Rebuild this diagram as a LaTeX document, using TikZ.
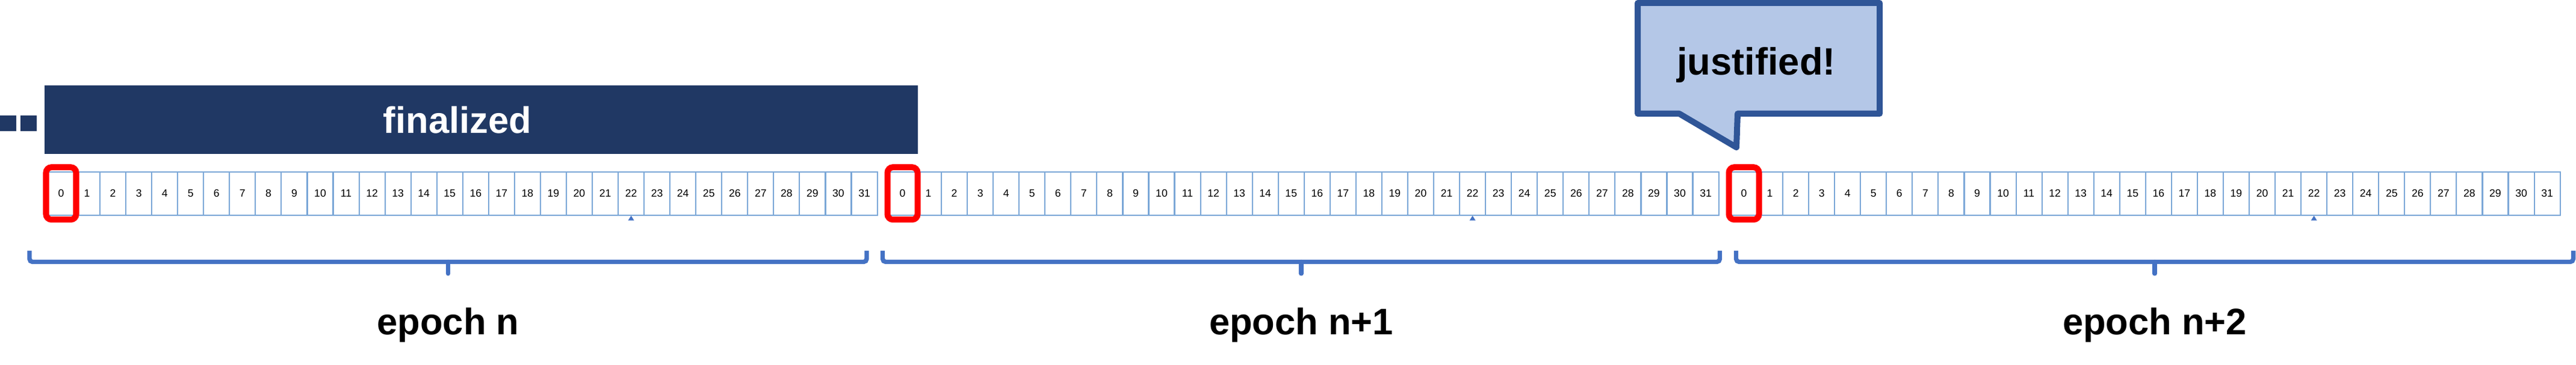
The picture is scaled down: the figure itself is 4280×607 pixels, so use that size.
\documentclass[tikz,border=0pt]{standalone}
\usepackage{fontspec}
\setmainfont{Liberation Sans}
\usetikzlibrary{calc}
\usetikzlibrary{positioning}
\definecolor{navy}{HTML}{203864}
\definecolor{cellblue}{HTML}{7BA7D7}
\definecolor{bracketblue}{HTML}{4472C4}
\definecolor{bubblefill}{HTML}{B4C7E7}
\definecolor{bubbleline}{HTML}{2F5597}
\tikzset{slot/.style={draw=cellblue,line width=0.6pt,outer sep=0pt,minimum width=4.305mm,minimum height=7.2mm,inner sep=0pt,font=\fontsize{5}{6}\selectfont}}
\tikzset{checkpoint/.style={draw=red,line width=2.85pt,rounded corners=0.9mm,minimum width=5mm,minimum height=8.7mm,inner sep=0pt}}
\tikzset{bracket/.style={draw=bracketblue,line width=2.1pt,rounded corners=0.5mm}}
\tikzset{biglabel/.style={font=\fontsize{17.5}{20}\selectfont\bfseries,anchor=base}}
\tikzset{bubble/.style={fill=bubblefill,draw=bubbleline,line width=2.85pt,line join=round}}
\newcommand{\dotbox}[1]{
    \fill[navy] (#1,192) rectangle ++(27,26);
}

\begin{document}
\begin{tikzpicture}[x=0.1mm,y=-0.1mm]
        \useasboundingbox (0,0) rectangle (4280,607);

        % dots and finalized bar
        \dotbox{0}
        \dotbox{34}
        \fill[navy] (74,142) rectangle (1525,256);
        \node[biglabel,text=white] (fin) at (760,222) {finalized};

        % slots of the three epochs
        \foreach \e/\x in {0/80,1/1478,2/2876} {
            \node[slot] (e\e-0) at (\x+21.5,321.7) {0};
            \foreach \s [remember=\s as \p (initially 0)] in {1,...,31} {
                \node[slot,right=0pt of e\e-\p] (e\e-\s) {\s};
            }
            \fill[bracketblue] ($(e\e-22.south)+(0,1)$) -- ++(-5,8) -- ++(10,0) -- cycle;
            \node[checkpoint] (cp\e) at (e\e-0) {};
        }

        % brackets
        \foreach \e/\l in {0/49,1/1466.5,2/2884.5} {
            \coordinate (tick\e) at (\l+695.5,455);
            \draw[bracket] (\l,417) -- (\l,435.5) -- (\l+1391,435.5) -- (\l+1391,417);
            \draw[bracket,line cap=round] (\l+695.5,435.5) -- (tick\e);
        }
        \node[biglabel] (ep0) at (744.5,557) {epoch n};
        \node[biglabel] (ep1) at (2162,557) {epoch n+1};
        \node[biglabel] (ep2) at (3580,557) {epoch n+2};

        % callout
        \draw[bubble] (2721,5) -- (3123,5) -- (3123,189) -- (2887,189)
            -- (2885,245) -- (2790,189) -- (2721,189) -- cycle;
        \node[font=\fontsize{18}{22}\selectfont\bfseries,anchor=base] (just) at (2918,125) {justified!};
    \end{tikzpicture}
\end{document}
